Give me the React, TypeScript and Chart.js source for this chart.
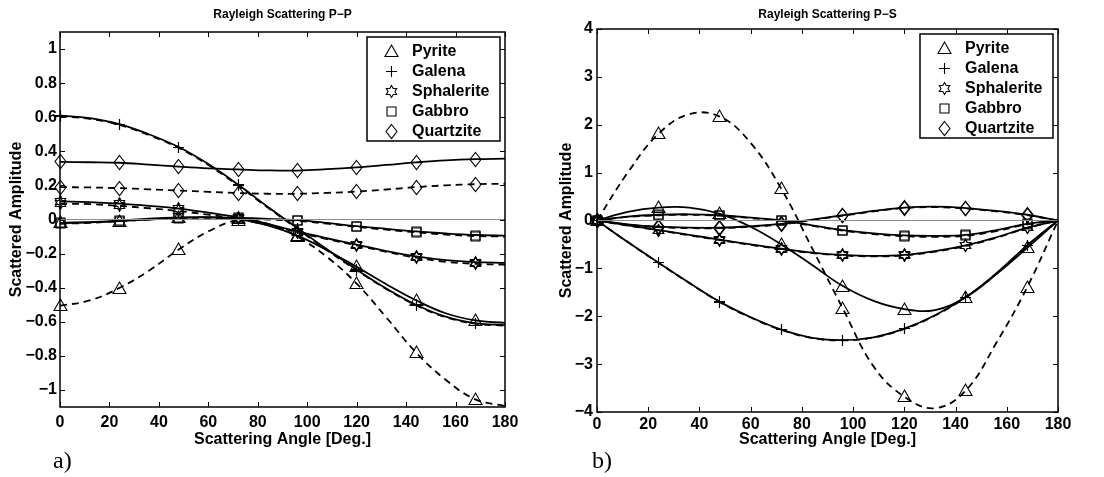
import React, { useEffect, useRef } from 'react';
import { Chart, registerables } from 'chart.js';

Chart.register(...registerables);

// ---------- data ----------
const angles = [0, 12, 24, 36, 48, 60, 72, 84, 96, 108, 120, 132, 144, 156, 168, 180];
const xTicks = [0, 20, 40, 60, 80, 100, 120, 140, 160, 180];
const xTickLabels = ['0', '20', '40', '60', '80', '100', '120', '140', '160', '180'];

const ppTicks = [-1, -0.8, -0.6, -0.4, -0.2, 0, 0.2, 0.4, 0.6, 0.8, 1];
const ppTickLabels = ['\u22121', '\u22120.8', '\u22120.6', '\u22120.4', '\u22120.2', '0', '0.2', '0.4', '0.6', '0.8', '1'];
const psTicks = [-4, -3, -2, -1, 0, 1, 2, 3, 4];
const psTickLabels = ['\u22124', '\u22123', '\u22122', '\u22121', '0', '1', '2', '3', '4'];

const materials = ['Pyrite', 'Galena', 'Sphalerite', 'Gabbro', 'Quartzite'];
const zeroLine = [0, 0];
const zeroLineAngles = [0, 180];

// P-P
const ppPyriteSolid = [-0.02, -0.017, -0.01, 0.0, 0.01, 0.012, 0.003, -0.035, -0.095, -0.18, -0.278, -0.38, -0.474, -0.55, -0.592, -0.607];
const ppPyriteDashed = [-0.506, -0.475, -0.402, -0.3, -0.176, -0.07, -0.005, -0.025, -0.1, -0.22, -0.376, -0.575, -0.78, -0.94, -1.055, -1.095];
const ppGalenaSolid = [0.61, 0.595, 0.56, 0.5, 0.425, 0.325, 0.205, 0.075, -0.05, -0.175, -0.294, -0.405, -0.5, -0.57, -0.608, -0.62];
const ppGalenaDashed = [0.605, 0.59, 0.555, 0.495, 0.42, 0.32, 0.2, 0.07, -0.055, -0.18, -0.298, -0.408, -0.503, -0.573, -0.611, -0.623];
const ppSphaleriteSolid = [0.106, 0.102, 0.093, 0.08, 0.064, 0.04, 0.013, -0.025, -0.07, -0.11, -0.147, -0.185, -0.216, -0.238, -0.25, -0.255];
const ppSphaleriteDashed = [0.093, 0.09, 0.08, 0.066, 0.05, 0.028, 0.003, -0.032, -0.075, -0.115, -0.152, -0.19, -0.224, -0.248, -0.26, -0.265];
const ppGabbroSolid = [-0.02, -0.015, -0.006, 0.005, 0.012, 0.014, 0.01, 0.004, -0.004, -0.02, -0.039, -0.055, -0.07, -0.082, -0.091, -0.095];
const ppGabbroDashed = [-0.025, -0.02, -0.01, 0.0, 0.008, 0.01, 0.007, 0.0, -0.008, -0.024, -0.043, -0.06, -0.075, -0.088, -0.097, -0.1];
const ppQuartziteSolid = [0.338, 0.336, 0.333, 0.322, 0.31, 0.3, 0.294, 0.288, 0.287, 0.295, 0.306, 0.32, 0.335, 0.347, 0.354, 0.357];
const ppQuartziteDashed = [0.19, 0.188, 0.184, 0.177, 0.17, 0.162, 0.155, 0.151, 0.151, 0.156, 0.164, 0.176, 0.19, 0.2, 0.207, 0.21];

// P-S
const psPyriteSolid = [0, 0.18, 0.27, 0.27, 0.14, -0.13, -0.5, -0.93, -1.37, -1.68, -1.85, -1.87, -1.6, -1.12, -0.57, 0];
const psPyriteDashed = [0, 1.0, 1.81, 2.22, 2.17, 1.62, 0.66, -0.58, -1.84, -3.05, -3.68, -3.92, -3.55, -2.55, -1.39, 0];
const psGalenaSolid = [0, -0.45, -0.88, -1.3, -1.7, -2.02, -2.28, -2.45, -2.5, -2.44, -2.26, -1.98, -1.6, -1.1, -0.52, 0];
const psGalenaDashed = [0, -0.45, -0.885, -1.305, -1.705, -2.025, -2.285, -2.455, -2.505, -2.445, -2.265, -1.985, -1.605, -1.105, -0.525, 0];
const psSphaleriteSolid = [0, -0.1, -0.2, -0.3, -0.4, -0.5, -0.59, -0.67, -0.72, -0.74, -0.72, -0.64, -0.52, -0.35, -0.15, 0];
const psSphaleriteDashed = [0, -0.105, -0.205, -0.31, -0.41, -0.51, -0.6, -0.68, -0.73, -0.75, -0.73, -0.65, -0.53, -0.36, -0.155, 0];
const psGabbroSolid = [0, 0.08, 0.12, 0.13, 0.11, 0.06, 0.0, -0.1, -0.2, -0.27, -0.31, -0.32, -0.3, -0.2, -0.07, 0];
const psGabbroDashed = [0, 0.075, 0.11, 0.12, 0.1, 0.05, -0.01, -0.11, -0.21, -0.285, -0.33, -0.34, -0.32, -0.22, -0.08, 0];
const psQuartziteSolid = [0, -0.08, -0.13, -0.15, -0.15, -0.12, -0.07, 0.02, 0.11, 0.2, 0.27, 0.29, 0.26, 0.2, 0.12, 0];
const psQuartziteDashed = [0, -0.085, -0.14, -0.16, -0.16, -0.13, -0.08, 0.01, 0.1, 0.19, 0.26, 0.28, 0.25, 0.19, 0.11, 0];

const FONT = '"Liberation Sans", Arial, Helvetica, sans-serif';
Chart.defaults.font.family = FONT;
Chart.defaults.color = '#000';

// ---------- markers ----------
function makeMarker(kind: string): HTMLCanvasElement {
  const c = document.createElement('canvas');
  const s = 19;
  c.width = s;
  c.height = s;
  const ctx = c.getContext('2d')!;
  const m = s / 2;
  ctx.strokeStyle = '#000';
  ctx.lineWidth = 1.1;
  ctx.beginPath();
  if (kind === 'triangle') {
    ctx.moveTo(m, m - 6.5);
    ctx.lineTo(m + 6.5, m + 5);
    ctx.lineTo(m - 6.5, m + 5);
    ctx.closePath();
  } else if (kind === 'plus') {
    ctx.moveTo(m - 5.5, m);
    ctx.lineTo(m + 5.5, m);
    ctx.moveTo(m, m - 5.5);
    ctx.lineTo(m, m + 5.5);
  } else if (kind === 'hexagram') {
    const ro = 6;
    const ri = ro / Math.sqrt(3);
    for (let k = 0; k < 12; k++) {
      const r = k % 2 === 0 ? ro : ri;
      const ang = -Math.PI / 2 + (k * Math.PI) / 6;
      const px = m + r * Math.cos(ang);
      const py = m + r * Math.sin(ang);
      if (k === 0) ctx.moveTo(px, py);
      else ctx.lineTo(px, py);
    }
    ctx.closePath();
  } else if (kind === 'square') {
    ctx.rect(m - 4.5, m - 4.5, 9, 9);
  } else if (kind === 'diamond') {
    ctx.moveTo(m, m - 7);
    ctx.lineTo(m + 5.5, m);
    ctx.lineTo(m, m + 7);
    ctx.lineTo(m - 5.5, m);
    ctx.closePath();
  }
  ctx.stroke();
  return c;
}

const markerKinds = ['triangle', 'plus', 'hexagram', 'square', 'diamond'];

type Curve = { values: number[]; material: number; dashed: boolean };

const ppCurves: Curve[] = [
  { values: ppPyriteSolid, material: 0, dashed: false },
  { values: ppPyriteDashed, material: 0, dashed: true },
  { values: ppGalenaSolid, material: 1, dashed: false },
  { values: ppGalenaDashed, material: 1, dashed: true },
  { values: ppSphaleriteSolid, material: 2, dashed: false },
  { values: ppSphaleriteDashed, material: 2, dashed: true },
  { values: ppGabbroSolid, material: 3, dashed: false },
  { values: ppGabbroDashed, material: 3, dashed: true },
  { values: ppQuartziteSolid, material: 4, dashed: false },
  { values: ppQuartziteDashed, material: 4, dashed: true },
];

const psCurves: Curve[] = [
  { values: psPyriteSolid, material: 0, dashed: false },
  { values: psPyriteDashed, material: 0, dashed: true },
  { values: psGalenaSolid, material: 1, dashed: false },
  { values: psGalenaDashed, material: 1, dashed: true },
  { values: psSphaleriteSolid, material: 2, dashed: false },
  { values: psSphaleriteDashed, material: 2, dashed: true },
  { values: psGabbroSolid, material: 3, dashed: false },
  { values: psGabbroDashed, material: 3, dashed: true },
  { values: psQuartziteSolid, material: 4, dashed: false },
  { values: psQuartziteDashed, material: 4, dashed: true },
];

type PanelSpec = {
  title: string;
  curves: Curve[];
  yTicks: number[];
  yLabels: string[];
  yMin: number;
  yMax: number;
  padRight: number;
  yAxisWidth: number;
  yTitlePad: number;
  yTickPad: number;
  xTickPad: number;
  titlePadBottom: number;
  xAxisHeight: number;
};

const ppSpec: PanelSpec = {
  title: 'Rayleigh Scattering P\u2212P',
  curves: ppCurves,
  yTicks: ppTicks,
  yLabels: ppTickLabels,
  yMin: -1.1,
  yMax: 1.1,
  padRight: 47,
  yAxisWidth: 60,
  yTitlePad: 7,
  yTickPad: 3,
  xTickPad: 6,
  titlePadBottom: 10.8,
  xAxisHeight: 70,
};

const psSpec: PanelSpec = {
  title: 'Rayleigh Scattering P\u2212S',
  curves: psCurves,
  yTicks: psTicks,
  yLabels: psTickLabels,
  yMin: -4,
  yMax: 4,
  padRight: 46,
  yAxisWidth: 45,
  yTitlePad: 5.4,
  yTickPad: 4,
  xTickPad: 3,
  titlePadBottom: 7.8,
  xAxisHeight: 65,
};

function buildConfig(spec: PanelSpec, markers: HTMLCanvasElement[]): any {
  const radii = angles.map((a) => (a % 24 === 0 && a < 180 ? 5 : 0));
  const datasets: any[] = [
    {
      label: 'zero',
      data: zeroLineAngles.map((a, i) => ({ x: a, y: zeroLine[i] })),
      borderColor: '#8c8c8c',
      borderWidth: 1,
      pointRadius: 0,
      tension: 0,
      clip: false,
    },
  ];
  spec.curves.forEach((c) => {
    datasets.push({
      label: materials[c.material] + (c.dashed ? ' (dashed)' : ''),
      data: angles.map((a, i) => ({ x: a, y: c.values[i] })),
      borderColor: '#000',
      borderWidth: 1.8,
      borderDash: c.dashed ? [7, 5] : [],
      tension: 0.4,
      pointStyle: markers[c.material],
      pointRadius: radii,
      pointHoverRadius: radii,
      clip: false,
    });
  });

  const framePlugin = {
    id: 'frameLegend',
    beforeDatasetsDraw(chart: any) {
      chart.ctx.imageSmoothingEnabled = false;
    },
    afterDatasetsDraw(chart: any) {
      const { ctx, chartArea: a, scales } = chart;
      ctx.save();
      ctx.imageSmoothingEnabled = false;
      ctx.strokeStyle = '#000';
      ctx.lineWidth = 1;
      ctx.setLineDash([]);
      const tl = 5;
      ctx.beginPath();
      for (const t of scales.x.ticks) {
        const px = Math.round(scales.x.getPixelForValue(t.value)) + 0.5;
        ctx.moveTo(px, a.bottom);
        ctx.lineTo(px, a.bottom - tl);
        ctx.moveTo(px, a.top);
        ctx.lineTo(px, a.top + tl);
      }
      for (const t of scales.y.ticks) {
        const py = Math.round(scales.y.getPixelForValue(t.value)) + 0.5;
        ctx.moveTo(a.left, py);
        ctx.lineTo(a.left + tl, py);
        ctx.moveTo(a.right, py);
        ctx.lineTo(a.right - tl, py);
      }
      ctx.stroke();
      ctx.lineWidth = 1.5;
      ctx.strokeRect(a.left, a.top, a.right - a.left, a.bottom - a.top);

      // legend
      const bw = 133;
      const bh = 104;
      const bx = a.right - 5 - bw;
      const by = a.top + 5;
      ctx.fillStyle = '#fff';
      ctx.fillRect(bx, by, bw, bh);
      ctx.lineWidth = 1.5;
      ctx.strokeRect(bx, by, bw, bh);
      ctx.font = 'bold 16px ' + FONT;
      ctx.fillStyle = '#000';
      ctx.textBaseline = 'middle';
      ctx.textAlign = 'left';
      materials.forEach((name, i) => {
        const cy = by + 14 + i * 20;
        const mk = markers[i];
        ctx.drawImage(mk, Math.round(bx + 24 - mk.width / 2), Math.round(cy - mk.height / 2));
        ctx.fillText(name, bx + 45, cy + 1);
      });
      ctx.restore();
    },
  };

  return {
    type: 'line',
    data: { datasets },
    plugins: [framePlugin],
    options: {
      animation: false,
      responsive: false,
      devicePixelRatio: 1,
      events: [],
      layout: { padding: { left: 0, right: spec.padRight, top: 0, bottom: 0 } },
      plugins: {
        legend: { display: false },
        tooltip: { enabled: false },
        title: {
          display: true,
          text: spec.title,
          fullSize: false,
          color: '#000',
          font: { size: 12, weight: 'bold', family: FONT },
          padding: { top: 7.5, bottom: spec.titlePadBottom - 0.7 },
        },
      },
      scales: {
        x: {
          type: 'linear',
          min: 0,
          max: 180,
          grid: { display: false, drawTicks: false },
          border: { display: false },
          afterBuildTicks: (scale: any) => {
            scale.ticks = xTicks.map((v) => ({ value: v }));
          },
          afterFit: (scale: any) => {
            scale.height = spec.xAxisHeight;
          },
          ticks: {
            autoSkip: false,
            maxRotation: 0,
            padding: spec.xTickPad,
            color: '#000',
            font: { size: 16, weight: 'bold', family: FONT },
            callback: (_v: any, i: number) => xTickLabels[i],
          },
          title: {
            display: true,
            text: 'Scattering Angle [Deg.]',
            color: '#000',
            font: { size: 16, weight: 'bold', family: FONT },
            padding: { top: 0, bottom: 27.6 },
          },
        },
        y: {
          type: 'linear',
          min: spec.yMin,
          max: spec.yMax,
          grid: { display: false, drawTicks: false },
          border: { display: false },
          afterBuildTicks: (scale: any) => {
            scale.ticks = spec.yTicks.map((v) => ({ value: v }));
          },
          afterFit: (scale: any) => {
            scale.width = spec.yAxisWidth;
          },
          ticks: {
            autoSkip: false,
            padding: spec.yTickPad,
            color: '#000',
            font: { size: 16, weight: 'bold', family: FONT },
            callback: (_v: any, i: number) => spec.yLabels[i],
          },
          title: {
            display: true,
            text: 'Scattered Amplitude',
            color: '#000',
            font: { size: 16, weight: 'bold', family: FONT },
            padding: { top: spec.yTitlePad, bottom: 0 },
          },
        },
      },
    },
  };
}

function Panel({ spec, left }: { spec: PanelSpec; left: number }) {
  const ref = useRef<HTMLCanvasElement | null>(null);
  useEffect(() => {
    if (!ref.current) return;
    const markers = markerKinds.map((k) => makeMarker(k));
    const chart = new Chart(ref.current, buildConfig(spec, markers));
    return () => chart.destroy();
  }, [spec]);
  return (
    <canvas
      ref={ref}
      width={552}
      height={477}
      style={{ position: 'absolute', left, top: 0, width: 552, height: 477 }}
    />
  );
}

export default function App() {
  const labelStyle: React.CSSProperties = {
    position: 'absolute',
    top: 448,
    fontFamily: '"Liberation Serif", "Times New Roman", serif',
    fontSize: 24,
    lineHeight: '24px',
    color: '#000',
  };
  return (
    <div style={{ position: 'fixed', left: 0, top: 0, width: 1104, height: 477, background: '#fff' }}>
      <Panel spec={ppSpec} left={0} />
      <Panel spec={psSpec} left={552} />
      <div style={{ ...labelStyle, left: 53 }}>a)</div>
      <div style={{ ...labelStyle, left: 592 }}>b)</div>
    </div>
  );
}
